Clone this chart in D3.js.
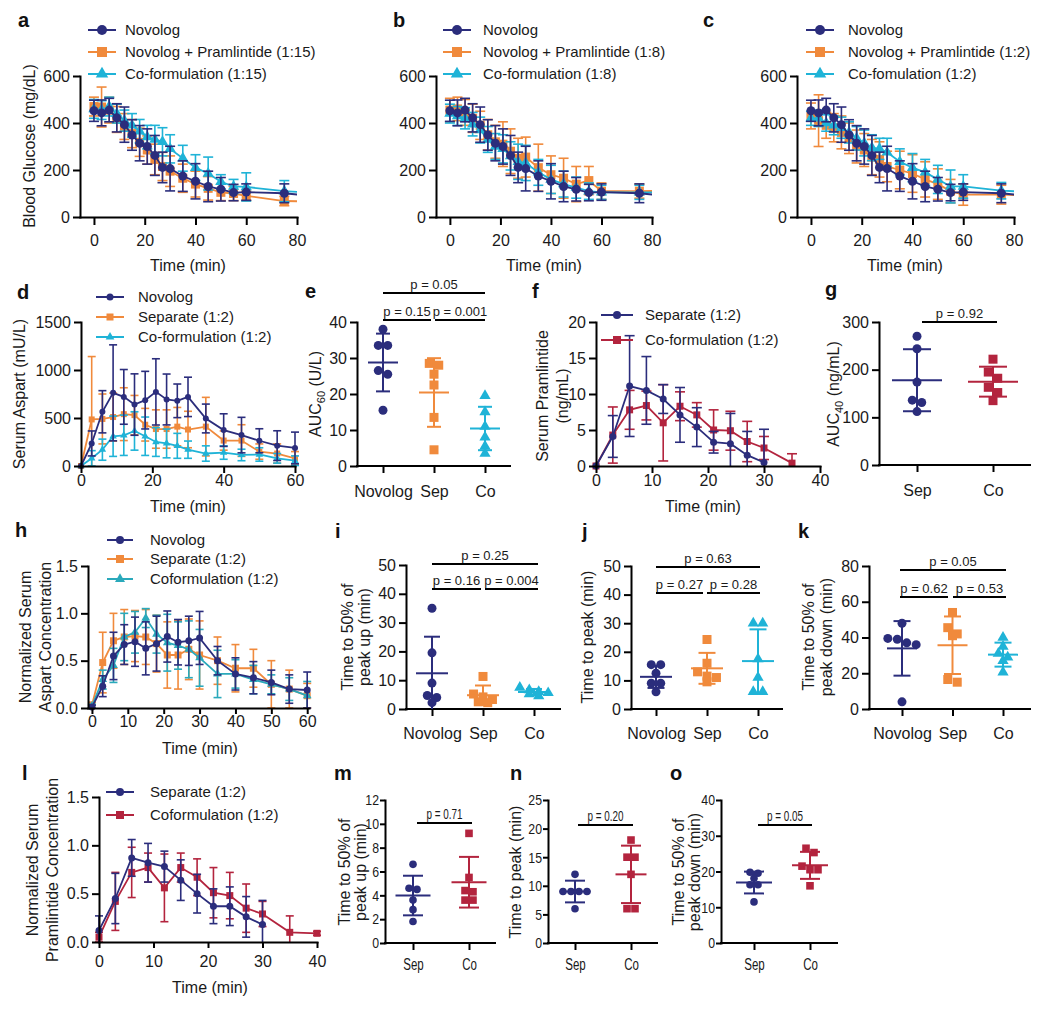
<!DOCTYPE html>
<html><head><meta charset="utf-8">
<script src="https://cdn.jsdelivr.net/npm/d3@7"></script>
<style>body{margin:0;background:#fff}</style>
</head><body>
<svg id="c" width="1050" height="1010"></svg>
<script>
// ---------------- DATA ----------------
const T_TOP = [0,3,6,9,12,15,18,21,24,27,30,35,40,45,50,55,60,75,90];
const novologBG    = [452,443,455,422,393,349,314,300,262,211,206,174,152,130,118,104,106,101,85];
const novologBG_sd = [45,55,50,60,75,65,75,75,85,65,95,65,75,65,50,35,35,40,40];
const sep15BG    = [470,468,455,415,385,355,318,285,245,215,195,165,140,122,105,100,90,68,65];
const sep15BG_sd = [40,85,55,55,55,60,60,60,65,60,65,60,55,50,35,30,20,20,20];
const co15BG     = [460,455,470,440,410,390,365,340,330,320,290,250,210,185,150,130,128,110,100];
const co15BG_sd  = [40,40,40,40,45,50,50,50,60,60,60,55,55,70,30,30,60,45,40];
const sep8BG     = [455,460,445,420,390,350,320,310,280,250,255,210,180,165,140,155,110,110,112];
const sep8BG_sd  = [50,50,55,60,60,65,70,95,95,85,85,100,80,85,75,60,35,30,30];
const co8BG      = [440,430,420,395,370,330,300,290,260,235,230,190,160,140,125,110,105,105,105];
const co8BG_sd   = [40,40,45,50,55,55,55,60,60,75,75,55,60,55,45,35,30,30,30];
const sep2BG     = [430,410,390,380,360,335,300,285,255,245,215,200,185,160,140,110,95,95,90];
const sep2BG_sd  = [55,110,55,60,70,65,70,70,75,75,65,80,80,75,65,50,45,40,35];
const co2BG      = [420,420,400,390,380,360,335,315,295,290,275,235,210,190,160,130,130,112,105];
const co2BG_sd   = [30,35,35,40,45,45,50,55,55,45,60,55,60,55,60,70,50,35,30];

const T_ASP = [0,3,6,9,12,15,18,21,24,27,30,35,40,45,50,55,60];
const aspNovolog    = [0,235,565,762,720,640,686,772,693,679,720,495,374,322,263,212,188];
const aspNovolog_sd = [0,130,220,500,285,320,300,345,265,175,205,150,170,185,125,155,165];
const aspSep        = [0,485,490,510,540,530,430,385,385,410,380,410,265,265,150,130,80];
const aspSep_sd     = [0,655,260,250,275,205,170,200,200,200,190,305,100,165,80,100,70];
const aspCo         = [0,80,170,310,320,365,310,250,235,210,170,130,140,115,120,80,55];
const aspCo_sd      = [0,80,110,210,210,200,200,150,150,130,90,80,70,60,70,50,50];

const T_PRAM_SEP = [0,3,6,9,12,15,18,21,24,27,30];
const T_PRAM_CO  = [0,3,6,9,12,15,18,21,24,27,30,35];
const pramSep    = [0,4.1,11.1,10.5,9.3,7.1,5.4,3.3,3.1,1.5,0.5];
const pramSep_sd = [0,2.9,7.0,4.7,2.0,3.8,2.7,1.5,4.2,3.3,4.6];
const pramCo     = [0,4.3,7.8,8.4,6.0,8.3,7.1,5.0,4.9,3.4,2.5,0.4];
const pramCo_sd  = [0,3.9,2.7,2.0,5.3,2.0,1.7,2.8,2.7,2.8,1.6,1.3];

const normAspNovolog    = [0.01,0.23,0.55,0.67,0.70,0.63,0.68,0.755,0.695,0.71,0.74,0.50,0.36,0.32,0.27,0.20,0.19];
const normAspNovolog_sd = [0.02,0.11,0.25,0.21,0.26,0.28,0.29,0.27,0.24,0.26,0.28,0.15,0.17,0.17,0.13,0.15,0.19];
const normAspSep        = [0.03,0.48,0.71,0.75,0.76,0.75,0.68,0.56,0.56,0.62,0.56,0.50,0.42,0.42,0.25,0.20,0.13];
const normAspSep_sd     = [0.03,0.32,0.29,0.29,0.27,0.29,0.30,0.35,0.36,0.32,0.36,0.25,0.25,0.20,0.25,0.20,0.13];
const normAspCo         = [0.02,0.30,0.45,0.75,0.80,0.95,0.78,0.69,0.66,0.62,0.53,0.36,0.36,0.30,0.25,0.20,0.13];
const normAspCo_sd      = [0.02,0.10,0.18,0.25,0.22,0.10,0.20,0.30,0.25,0.30,0.30,0.25,0.15,0.15,0.10,0.12,0.15];

const T_NPRAM_SEP = [0,3,6,9,12,15,18,21,24,27,30];
const T_NPRAM_CO  = [0,3,6,9,12,15,18,21,24,27,30,35,40];
const normPramSep    = [0.12,0.45,0.87,0.82,0.78,0.64,0.50,0.37,0.37,0.26,0.18];
const normPramSep_sd = [0.15,0.26,0.19,0.20,0.16,0.21,0.20,0.18,0.20,0.21,0.25];
const normPramCo     = [0.05,0.42,0.72,0.77,0.56,0.77,0.67,0.51,0.48,0.35,0.29,0.10,0.09];
const normPramCo_sd  = [0.05,0.30,0.26,0.15,0.35,0.15,0.19,0.26,0.24,0.25,0.13,0.17,0.02];

const cats3 = ["Novolog","Sep","Co"];
const cats2 = ["Sep","Co"];
const aucAspNovolog = [38,33.5,33.5,26.5,25.5,15.5];
const aucAspSep     = [28.5,28,25.5,22.5,13.5,4.5];
const aucAspCo      = [19.5,15,11,8,5.5,3.5];
const aucPramSep    = [270,244,174,136,131,112];
const aucPramCo     = [222,195,182,163,152,135];
const upNovolog   = [35,19.5,9,4.7,4,2.2];
const upSep       = [11.3,5.2,4.2,3.3,2.5,2.2];
const upCo        = [7.5,6.6,6,5.6,5.2,4.5];
const peakNovolog = [15.5,15.5,12.5,9,9,6];
const peakSep     = [24.3,16,13,11.5,11,9.5];
const peakCo      = [30,30,17.5,11,6,6];
const downNovolog = [48,39.5,39,37,36,4];
const downSep     = [54,45.5,42,41,16.5,15];
const downCo      = [40,35,31,29,27,20.5];
const pUpSep   = [6.6,4.6,4.5,3.6,2.8,1.8];
const pUpCo    = [9.2,5.5,4.4,4.3,3.6,3.6];
const pPeakSep = [12,9,9,9,9,6];
const pPeakCo  = [18,15,15,12,6,6];
const pDownSep = [19.8,19.5,18.1,16.3,16.3,11.5];
const pDownCo  = [26.5,25.3,21.5,20.5,20.5,16];

// ---------------- STYLE ----------------
const NAVY="#2b2d7c", ORANGE="#f08a3c", CYAN="#1fb3d7", TEAL="#2aa9bb", CRIMSON="#b3243e";
const FONT="'Liberation Sans', Arial, Helvetica, sans-serif";
const INK="#1a1a1a";

const svg = d3.select("#c");
svg.append("rect").attr("width",1050).attr("height",1010).attr("fill","#fff");

function squeeze(sel, f) {
  sel.each(function(){
    const L = this.getComputedTextLength();
    this.setAttribute("textLength", (L*f).toFixed(2));
    this.setAttribute("lengthAdjust","spacingAndGlyphs");
  });
}
function txt(x,y,s,o={}) {
  return svg.append("text").attr("x",x).attr("y",y).text(s)
    .attr("font-family",FONT).attr("font-size",o.size||16)
    .attr("font-weight",o.weight||"normal").attr("fill",o.fill||INK)
    .attr("text-anchor",o.anchor||"start");
}
function vtxt(x,cy,s,o={}) {
  return svg.append("text").attr("transform",`translate(${x},${cy}) rotate(-90)`)
    .attr("text-anchor","middle").attr("dy","0.35em").text(s)
    .attr("font-family",FONT).attr("font-size",o.size||16).attr("fill",INK);
}
function panelLabel(x,y,s){ txt(x,y,s,{size:20,weight:"bold",fill:"#111"}); }

function marker(g, shape, r, color, cx, cy) {
  let m;
  if (shape==="circle") m = g.append("circle").attr("r",r);
  else if (shape==="square") m = g.append("rect").attr("x",-r).attr("y",-r).attr("width",2*r).attr("height",2*r);
  else m = g.append("path").attr("d", d3.symbol(d3.symbolTriangle, 2.7*r*r)());
  return m.attr("fill",color).attr("transform",`translate(${cx},${cy})`);
}

function styleAxis(g, size) {
  g.attr("font-size",null).attr("font-family",null);
  g.select(".domain").attr("stroke","#000").attr("stroke-width",2).attr("stroke-linecap","square");
  g.selectAll(".tick line").attr("stroke","#000").attr("stroke-width",2);
  g.selectAll(".tick text").attr("fill",INK).attr("font-size",size).attr("font-family",FONT);
}

let clipN = 0;
function linePanel(p) {
  const x = d3.scaleLinear().domain(p.xDomain).range(p.xRange);
  const y = d3.scaleLinear().domain(p.yDomain).range(p.yRange);
  const g = svg.append("g");
  const plot = g.append("g");
  if (p.clip) {
    const id = "clip"+(clipN++);
    svg.append("clipPath").attr("id",id).append("rect")
      .attr("x",p.xRange[0]-20).attr("y",0).attr("width",p.xRange[1]-p.xRange[0]+20).attr("height",1010);
    plot.attr("clip-path",`url(#${id})`);
  }
  const gx = g.append("g").attr("transform",`translate(0,${p.yRange[0]})`)
    .call(d3.axisBottom(x).tickValues(p.xTicks).tickSize(p.xTick||7).tickPadding(p.xPad||3).tickSizeOuter(0));
  styleAxis(gx,16);
  const gy = g.append("g").attr("transform",`translate(${p.xRange[0]},0)`)
    .call(d3.axisLeft(y).tickValues(p.yTicks).tickSize(7).tickPadding(3).tickSizeOuter(0).tickFormat(p.yFormat||d3.format("d")));
  styleAxis(gy,16);

  const n = p.series.length;
  const order = d3.range(1,n).concat([0]);
  order.forEach(i => {
    const s = p.series[i];
    const sg = plot.append("g");
    const cw = p.cap/2;
    s.t.forEach((t,k) => {
      const m = s.v[k], sd = s.sd[k];
      if (!sd) return;
      const lo = Math.max(p.yDomain[0], m-sd), hi = m+sd;
      const xx = x(t);
      sg.append("line").attr("x1",xx).attr("x2",xx).attr("y1",y(lo)).attr("y2",y(hi))
        .attr("stroke",s.color).attr("stroke-width",1.6);
      sg.append("line").attr("x1",xx-cw).attr("x2",xx+cw).attr("y1",y(hi)).attr("y2",y(hi))
        .attr("stroke",s.color).attr("stroke-width",1.6);
      if (m-sd >= p.yDomain[0])
        sg.append("line").attr("x1",xx-cw).attr("x2",xx+cw).attr("y1",y(lo)).attr("y2",y(lo))
          .attr("stroke",s.color).attr("stroke-width",1.6);
    });
    sg.append("path").datum(s.t.map((t,k)=>[t,s.v[k]]))
      .attr("d", d3.line().x(d=>x(d[0])).y(d=>y(d[1])))
      .attr("fill","none").attr("stroke",s.color).attr("stroke-width",1.8);
    s.t.forEach((t,k) => marker(sg, s.shape, p.r, s.color, x(t), y(s.v[k])));
  });
  p.series.forEach((s,i) => {
    const ly = p.legend.rows[i];
    svg.append("line").attr("x1",p.legend.mx-p.legend.half).attr("x2",p.legend.mx+p.legend.half)
      .attr("y1",ly).attr("y2",ly).attr("stroke",s.color).attr("stroke-width",2);
    marker(svg, s.shape, p.r+0.5, s.color, p.legend.mx, ly);
    txt(p.legend.tx, ly, s.name, {size:15}).attr("dy","0.36em");
  });
  if (p.xTitle) txt(p.xTitle[0], p.xTitle[1], "Time (min)", {anchor:"middle"});
}

function swarmOffsets(vals, y, diam) {
  const idx = d3.range(vals.length).sort((a,b)=>vals[b]-vals[a]);
  const rows = []; let cur = null;
  idx.forEach(i => {
    const py = y(vals[i]);
    if (cur && Math.abs(py-cur.y0) < diam*0.7) cur.items.push(i);
    else { cur = {y0:py, items:[i]}; rows.push(cur); }
  });
  const off = new Array(vals.length).fill(0);
  rows.forEach(r => { const k = r.items.length; r.items.forEach((i,j)=>off[i]=(j-(k-1)/2)*diam*1.05); });
  return off;
}

function dotPanel(p) {
  const xs = d3.scalePoint().domain(p.groups.map(d=>d.name)).range(p.catRange);
  const y = d3.scaleLinear().domain(p.yDomain).range(p.yRange);
  const g = svg.append("g");
  const gx = g.append("g").attr("transform",`translate(0,${p.yRange[0]})`)
    .call(d3.axisBottom(xs).tickSize(7).tickPadding(p.xPad).tickSizeOuter(0));
  gx.select(".domain").attr("d",`M${p.axisX},0H${p.axisRight}`);
  styleAxis(gx, 16);
  const gy = g.append("g").attr("transform",`translate(${p.axisX},0)`)
    .call(d3.axisLeft(y).tickValues(p.yTicks).tickSize(p.narrow?5:7).tickPadding(p.narrow?1:3).tickSizeOuter(0));
  styleAxis(gy, p.narrow?15:16);
  if (p.narrow) { squeeze(gx.selectAll(".tick text"), 0.72); squeeze(gy.selectAll(".tick text"), 0.82); }

  p.groups.forEach(gr => {
    const cx = xs(gr.name);
    const mean = d3.mean(gr.values), sd = d3.deviation(gr.values);
    const off = swarmOffsets(gr.values, y, 2*p.r);
    gr.values.forEach((v,k) => marker(g, gr.shape, p.r, gr.color, cx+off[k], y(v)));
    const lo = Math.max(p.yDomain[0], mean-sd), hi = mean+sd;
    const line = (x1,x2,y1,y2) => g.append("line").attr("x1",x1).attr("x2",x2).attr("y1",y1).attr("y2",y2)
      .attr("stroke",gr.color).attr("stroke-width",2);
    line(cx,cx,y(lo),y(hi));
    line(cx-p.meanW/2,cx+p.meanW/2,y(mean),y(mean));
    line(cx-p.capW/2,cx+p.capW/2,y(hi),y(hi));
    if (mean-sd >= p.yDomain[0]) line(cx-p.capW/2,cx+p.capW/2,y(lo),y(lo));
  });
  (p.brackets||[]).forEach(b => {
    g.append("line").attr("x1",b[0]).attr("x2",b[1]).attr("y1",b[2]).attr("y2",b[2])
      .attr("stroke","#000").attr("stroke-width",2);
    const t = txt((b[0]+b[1])/2, b[2]-4, b[3], {size:p.narrow?15:13, anchor:"middle"});
    if (p.narrow) squeeze(t, 0.66);
  });
}

// ---------------- ROW 1: a, b, c ----------------
const topCommon = {xDomain:[-5.5,80], yDomain:[0,600], yRange:[217,76], yTicks:[0,200,400,600],
  xTicks:[0,20,40,60,80], xTick:8, xPad:10, r:4.5, cap:10, clip:true};
linePanel(Object.assign({}, topCommon, {xRange:[80,297],
  series:[{name:"Novolog",color:NAVY,shape:"circle",t:T_TOP,v:novologBG,sd:novologBG_sd},
          {name:"Novolog + Pramlintide (1:15)",color:ORANGE,shape:"square",t:T_TOP,v:sep15BG,sd:sep15BG_sd},
          {name:"Co-formulation (1:15)",color:CYAN,shape:"triangle",t:T_TOP,v:co15BG,sd:co15BG_sd}],
  legend:{mx:102,tx:125,half:14,rows:[30,52,74]}, xTitle:[188,271]}));
linePanel(Object.assign({}, topCommon, {xRange:[436,652],
  series:[{name:"Novolog",color:NAVY,shape:"circle",t:T_TOP,v:novologBG,sd:novologBG_sd},
          {name:"Novolog + Pramlintide (1:8)",color:ORANGE,shape:"square",t:T_TOP,v:sep8BG,sd:sep8BG_sd},
          {name:"Co-formulation (1:8)",color:CYAN,shape:"triangle",t:T_TOP,v:co8BG,sd:co8BG_sd}],
  legend:{mx:457,tx:483,half:14,rows:[30,52,74]}, xTitle:[544,271]}));
linePanel(Object.assign({}, topCommon, {xRange:[797,1014],
  series:[{name:"Novolog",color:NAVY,shape:"circle",t:T_TOP,v:novologBG,sd:novologBG_sd},
          {name:"Novolog + Pramlintide (1:2)",color:ORANGE,shape:"square",t:T_TOP,v:sep2BG,sd:sep2BG_sd},
          {name:"Co-fomulation (1:2)",color:CYAN,shape:"triangle",t:T_TOP,v:co2BG,sd:co2BG_sd}],
  legend:{mx:820,tx:848,half:14,rows:[30,52,74]}, xTitle:[905,271]}));
vtxt(29,146,"Blood Glucose (mg/dL)");
panelLabel(18,27,"a"); panelLabel(393,27,"b"); panelLabel(703,27,"c");

// ---------------- ROW 2: d, e, f, g ----------------
linePanel({xDomain:[0,60], xRange:[81,295], yDomain:[0,1500], yRange:[466,322], yTicks:[0,500,1000,1500],
  xTicks:[0,20,40,60], xTick:7, xPad:2, r:3, cap:8,
  series:[{name:"Novolog",color:NAVY,shape:"circle",t:T_ASP,v:aspNovolog,sd:aspNovolog_sd},
          {name:"Separate (1:2)",color:ORANGE,shape:"square",t:T_ASP,v:aspSep,sd:aspSep_sd},
          {name:"Co-formulation (1:2)",color:CYAN,shape:"triangle",t:T_ASP,v:aspCo,sd:aspCo_sd}],
  legend:{mx:110,tx:138,half:14,rows:[297,317,337]}, xTitle:[188,512]});
vtxt(19,394,"Serum Aspart (mU/L)");
panelLabel(17,299,"d");

dotPanel({axisX:357, axisRight:510, catRange:[383,485], yDomain:[0,40], yRange:[466,322], yTicks:[0,10,20,30,40],
  xPad:13, r:4.5, meanW:30, capW:14,
  groups:[{name:cats3[0],color:NAVY,shape:"circle",values:aucAspNovolog},
          {name:cats3[1],color:ORANGE,shape:"square",values:aucAspSep},
          {name:cats3[2],color:CYAN,shape:"triangle",values:aucAspCo}],
  brackets:[[383,485,293,"p = 0.05"],[383,431,320,"p = 0.15"],[435,485,320,"p = 0.001"]]});
{
  const t = svg.append("text").attr("transform","translate(315,394) rotate(-90)").attr("text-anchor","middle")
    .attr("dy","0.35em").attr("font-family",FONT).attr("font-size",16).attr("fill",INK);
  t.append("tspan").text("AUC");
  t.append("tspan").text("60").attr("font-size",11).attr("dy",4);
  t.append("tspan").text(" (U/L)").attr("dy",-4);
}
panelLabel(305,298,"e");

linePanel({xDomain:[0,40], xRange:[596,820], yDomain:[0,20], yRange:[466,322], yTicks:[0,5,10,15,20],
  xTicks:[0,10,20,30,40], xTick:7, xPad:2, r:3.5, cap:10,
  series:[{name:"Separate (1:2)",color:NAVY,shape:"circle",t:T_PRAM_SEP,v:pramSep,sd:pramSep_sd},
          {name:"Co-formulation (1:2)",color:CRIMSON,shape:"square",t:T_PRAM_CO,v:pramCo,sd:pramCo_sd}],
  legend:{mx:617,tx:645,half:16,rows:[315,340]}, xTitle:[703,512]});
vtxt(542,396,"Serum Pramlintide");
vtxt(562,396,"(ng/mL)");
panelLabel(532,298,"f");

dotPanel({axisX:879, axisRight:1030, catRange:[917,993], yDomain:[0,300], yRange:[465,322], yTicks:[0,100,200,300],
  xPad:13, r:4.5, meanW:50, capW:28,
  groups:[{name:cats2[0],color:NAVY,shape:"circle",values:aucPramSep},
          {name:cats2[1],color:CRIMSON,shape:"square",values:aucPramCo}],
  brackets:[[922,997,322,"p = 0.92"]]});
{
  const t = svg.append("text").attr("transform","translate(833,394) rotate(-90)").attr("text-anchor","middle")
    .attr("dy","0.35em").attr("font-family",FONT).attr("font-size",16).attr("fill",INK);
  t.append("tspan").text("AUC");
  t.append("tspan").text("40").attr("font-size",11).attr("dy",4);
  t.append("tspan").text(" (ng/mL)").attr("dy",-4);
}
panelLabel(825,296,"g");

// ---------------- ROW 3: h, i, j, k ----------------
linePanel({xDomain:[-1.1,60.5], xRange:[88,309], yDomain:[0,1.5], yRange:[708,566], yTicks:[0,0.5,1,1.5],
  yFormat:d3.format(".1f"), xTicks:[0,10,20,30,40,50,60], xTick:6, xPad:2, r:3.5, cap:8,
  series:[{name:"Novolog",color:NAVY,shape:"circle",t:T_ASP,v:normAspNovolog,sd:normAspNovolog_sd},
          {name:"Separate (1:2)",color:ORANGE,shape:"square",t:T_ASP,v:normAspSep,sd:normAspSep_sd},
          {name:"Coformulation (1:2)",color:TEAL,shape:"triangle",t:T_ASP,v:normAspCo,sd:normAspCo_sd}],
  legend:{mx:120,tx:150,half:13,rows:[540,559,579]}, xTitle:[200,754]});
vtxt(25,637,"Normalized  Serum");
vtxt(45,637,"Aspart Concentration");
panelLabel(15,537,"h");

dotPanel({axisX:406, axisRight:560, catRange:[432,534], yDomain:[0,50], yRange:[709,565], yTicks:[0,10,20,30,40,50],
  xPad:12, r:4.5, meanW:32, capW:16,
  groups:[{name:cats3[0],color:NAVY,shape:"circle",values:upNovolog},
          {name:cats3[1],color:ORANGE,shape:"square",values:upSep},
          {name:cats3[2],color:CYAN,shape:"triangle",values:upCo}],
  brackets:[[432,538,564,"p = 0.25"],[432,481,589,"p = 0.16"],[485,538,589,"p = 0.004"]]});
vtxt(347,637,"Time  to 50% of");
vtxt(364,637,"peak up (min)");
panelLabel(335,538,"i");

dotPanel({axisX:631, axisRight:782, catRange:[656,758], yDomain:[0,50], yRange:[709,566], yTicks:[0,10,20,30,40,50],
  xPad:12, r:4.5, meanW:32, capW:17,
  groups:[{name:cats3[0],color:NAVY,shape:"circle",values:peakNovolog},
          {name:cats3[1],color:ORANGE,shape:"square",values:peakSep},
          {name:cats3[2],color:CYAN,shape:"triangle",values:peakCo}],
  brackets:[[656,760,567,"p = 0.63"],[656,703,593,"p = 0.27"],[707,760,593,"p = 0.28"]]});
vtxt(587,637,"Time to peak (min)");
panelLabel(582,538,"j");

dotPanel({axisX:869, axisRight:1030, catRange:[902,1003], yDomain:[0,80], yRange:[709,566], yTicks:[0,20,40,60,80],
  xPad:12, r:4.5, meanW:30, capW:17,
  groups:[{name:cats3[0],color:NAVY,shape:"circle",values:downNovolog},
          {name:cats3[1],color:ORANGE,shape:"square",values:downSep},
          {name:cats3[2],color:CYAN,shape:"triangle",values:downCo}],
  brackets:[[900,1006,570,"p = 0.05"],[900,948,597,"p = 0.62"],[953,1006,597,"p = 0.53"]]});
vtxt(808,637,"Time  to 50% of");
vtxt(826,637,"peak down (min)");
panelLabel(798,538,"k");

// ---------------- ROW 4: l, m, n, o ----------------
linePanel({xDomain:[0,40], xRange:[99,317], yDomain:[0,1.5], yRange:[942,797], yTicks:[0,0.5,1,1.5],
  yFormat:d3.format(".1f"), xTicks:[0,10,20,30,40], xTick:6, xPad:8, r:3.5, cap:8,
  series:[{name:"Separate (1:2)",color:NAVY,shape:"circle",t:T_NPRAM_SEP,v:normPramSep,sd:normPramSep_sd},
          {name:"Coformulation (1:2)",color:CRIMSON,shape:"square",t:T_NPRAM_CO,v:normPramCo,sd:normPramCo_sd}],
  legend:{mx:120,tx:150,half:14,rows:[792,815]}, xTitle:[210,993]});
vtxt(32,870,"Normalized  Serum");
vtxt(52,870,"Pramlintide Concentration");
panelLabel(22,780,"l");

dotPanel({axisX:385, axisRight:495, catRange:[413,469], yDomain:[0,12], yRange:[943,800], yTicks:[0,2,4,6,8,10,12],
  xPad:9, r:3.8, meanW:35, capW:20, narrow:true,
  groups:[{name:cats2[0],color:NAVY,shape:"circle",values:pUpSep},
          {name:cats2[1],color:CRIMSON,shape:"square",values:pUpCo}],
  brackets:[[417,472,823,"p = 0.71"]]});
vtxt(344,872,"Time  to 50% of");
vtxt(360,872,"peak up (min)");
panelLabel(334,780,"m");

dotPanel({axisX:548, axisRight:657, catRange:[575,631], yDomain:[0,25], yRange:[943,800], yTicks:[0,5,10,15,20,25],
  xPad:9, r:3.8, meanW:31, capW:20, narrow:true,
  groups:[{name:cats2[0],color:NAVY,shape:"circle",values:pPeakSep},
          {name:cats2[1],color:CRIMSON,shape:"square",values:pPeakCo}],
  brackets:[[578,633,825,"p = 0.20"]]});
vtxt(515,872,"Time to peak (min)");
panelLabel(510,780,"n");

dotPanel({axisX:721, axisRight:837, catRange:[754,810], yDomain:[0,40], yRange:[943,800], yTicks:[0,10,20,30,40],
  xPad:9, r:3.8, meanW:36, capW:20, narrow:true,
  groups:[{name:cats2[0],color:NAVY,shape:"circle",values:pDownSep},
          {name:cats2[1],color:CRIMSON,shape:"square",values:pDownCo}],
  brackets:[[758,812,825,"p = 0.05"]]});
vtxt(678,872,"Time  to 50% of");
vtxt(694,872,"peak down (min)");
panelLabel(670,780,"o");
</script></body></html>
